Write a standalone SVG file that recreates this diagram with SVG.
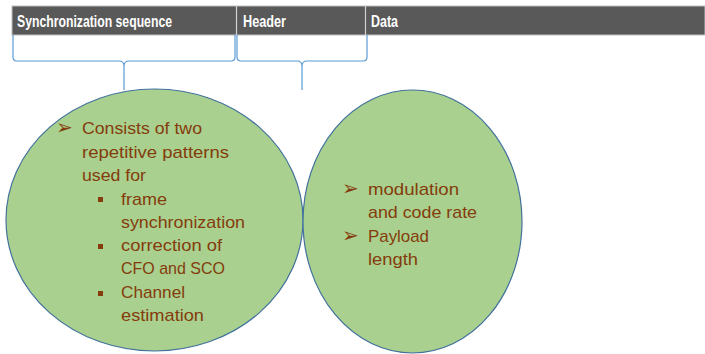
<svg xmlns="http://www.w3.org/2000/svg" width="705" height="354" viewBox="0 0 705 354">
<style>
.hdr{font-family:"Liberation Sans",Arial,sans-serif;font-weight:bold;font-size:16px;fill:#ffffff}
.t{font-family:"Liberation Sans",Arial,sans-serif;font-size:17px;fill:#843C0C}
.ar{font-family:"DejaVu Sans",sans-serif;font-size:20px;fill:#843C0C}
.br{fill:none;stroke:#5B9BD5;stroke-width:1.2}
.el{fill:#A9D08E;stroke:#41719C;stroke-width:1.2}
</style>
<rect width="705" height="354" fill="#ffffff"/>
<g id="bar">
<rect x="12" y="6" width="693" height="29" fill="#595959" stroke="#bfbfbf" stroke-width="1"/>
<line x1="236.5" y1="6" x2="236.5" y2="35" stroke="#d0d0d0" stroke-width="1.2"/>
<line x1="365.5" y1="6" x2="365.5" y2="35" stroke="#d0d0d0" stroke-width="1.2"/>
<text class="hdr" x="17" y="27" textLength="155" lengthAdjust="spacingAndGlyphs">Synchronization sequence</text>
<text class="hdr" x="243" y="27" textLength="43" lengthAdjust="spacingAndGlyphs">Header</text>
<text class="hdr" x="371" y="27" textLength="27" lengthAdjust="spacingAndGlyphs">Data</text>
</g>
<g id="connectors">
<path class="br" d="M13,35 L13,57 Q13,61 17,61 L119,61 Q124,61 124,66 L124,90 M124,66 Q124,61 129,61 L231,61 Q235,61 235,57 L235,35"/>
<path class="br" d="M237,35 L237,57 Q237,61 241,61 L297,61 Q302,61 302,66 L302,90 M302,66 Q302,61 307,61 L363,61 Q367,61 367,57 L367,35"/>
</g>
<g id="sync">
<ellipse class="el" cx="154.5" cy="220" rx="148.5" ry="131"/>
<text class="ar" x="56" y="134">➢</text>
<text class="t" x="82" y="134" textLength="120" lengthAdjust="spacingAndGlyphs">Consists of two</text>
<text class="t" x="82" y="158" textLength="147" lengthAdjust="spacingAndGlyphs">repetitive patterns</text>
<text class="t" x="82" y="181" textLength="64" lengthAdjust="spacingAndGlyphs">used for</text>
<rect x="98" y="197" width="5" height="5" fill="#843C0C"/>
<text class="t" x="121" y="205" textLength="46" lengthAdjust="spacingAndGlyphs">frame</text>
<text class="t" x="121" y="228" textLength="124" lengthAdjust="spacingAndGlyphs">synchronization</text>
<rect x="98" y="244" width="5" height="5" fill="#843C0C"/>
<text class="t" x="121" y="251" textLength="101" lengthAdjust="spacingAndGlyphs">correction of</text>
<text class="t" x="121" y="274" textLength="104" lengthAdjust="spacingAndGlyphs">CFO and SCO</text>
<rect x="98" y="291" width="5" height="5" fill="#843C0C"/>
<text class="t" x="121" y="298" textLength="64" lengthAdjust="spacingAndGlyphs">Channel</text>
<text class="t" x="121" y="321" textLength="83" lengthAdjust="spacingAndGlyphs">estimation</text>
</g>
<g id="header">
<ellipse class="el" cx="412.5" cy="221.5" rx="109.5" ry="131.5"/>
<text class="ar" x="342" y="195">➢</text>
<text class="t" x="368" y="195" textLength="91" lengthAdjust="spacingAndGlyphs">modulation</text>
<text class="t" x="368" y="218" textLength="109" lengthAdjust="spacingAndGlyphs">and code rate</text>
<text class="ar" x="342" y="242">➢</text>
<text class="t" x="368" y="242" textLength="61" lengthAdjust="spacingAndGlyphs">Payload</text>
<text class="t" x="368" y="265" textLength="50" lengthAdjust="spacingAndGlyphs">length</text>
</g>
</svg>
